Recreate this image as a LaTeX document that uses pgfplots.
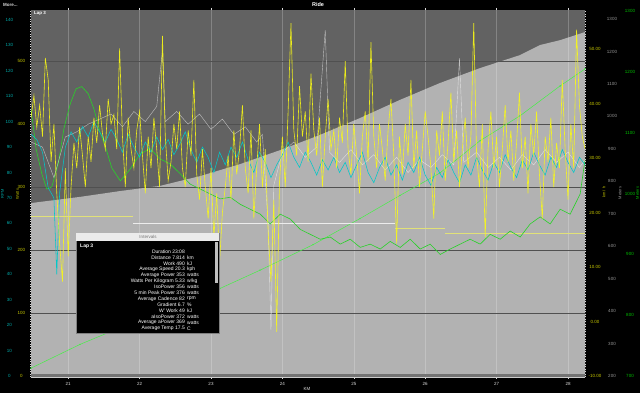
\documentclass[border=0pt]{standalone}
\usepackage{pgfplots}
\pgfplotsset{compat=1.18}
\usepackage{fontspec}
\setmainfont{Liberation Sans}
\definecolor{bgdark}{RGB}{98,98,98}
\definecolor{altfill}{RGB}{178,178,178}
\definecolor{pyellow}{RGB}{250,250,20}
\definecolor{ccyan}{RGB}{0,200,200}
\definecolor{sgreen}{RGB}{40,210,40}
\definecolor{lgreen}{RGB}{70,240,70}
\definecolor{tyellow}{RGB}{200,200,0}
\definecolor{tgray}{RGB}{150,150,150}
\definecolor{tgreen}{RGB}{0,190,0}
\definecolor{tcyan}{RGB}{0,170,170}
\definecolor{lineyel}{RGB}{225,225,120}
\definecolor{gridc}{RGB}{80,80,80}
\pgfplotsset{
  base/.style={scale only axis, width=554pt, height=367pt, at={(31pt,16pt)}, anchor=south west,
    xmin=20.479, xmax=28.238, axis line style={draw=none}, tick style={draw=none},
    xtick={21,...,28}, xticklabels={}, clip=true,
    /pgf/number format/assume math mode=true, /pgf/number format/1000 sep={},
    tick label style={font=\fontsize{4.5}{5}\selectfont}},
}
\newcommand\irow[4]{\node[anchor=east,inner sep=0,text=white,font=\fontsize{5}{6}\selectfont] at (185pt,#1pt) {#2\ #3};
  \node[anchor=west,inner sep=0,text=white,font=\fontsize{5}{6}\selectfont] at (187pt,#1pt) {#4};}
\begin{document}
\begin{tikzpicture}
\useasboundingbox (0,0) rectangle (640pt,393pt);
\fill[black] (0,0) rectangle (640pt,393pt);
% altitude
\begin{axis}[base, ymin=197, ymax=1328, ytick={200,300,...,1300}, yticklabel pos=right,
  yticklabel style={anchor=center, xshift=27pt, text=tgray},
  axis background/.style={fill=bgdark}, axis on top, xmajorgrids,
  grid style={white, opacity=0.22, line width=0.4pt}]
\addplot[fill=altfill, draw=none] coordinates {(20.479,733) (21.165,752) (21.726,770) (22.286,786) (22.846,816) (23.406,853) (23.966,896) (24.527,943) (25.087,995) (25.647,1051) (26.207,1103) (26.768,1149) (27.328,1189) (27.608,1220) (27.888,1235) (28.238,1260)} \closedcycle;
\end{axis}
% watts axis: grid + labels
\begin{axis}[base, ymin=-1.6, ymax=581, ytick={0,100,...,500},
  yticklabel style={anchor=center, xshift=-7.5pt, text=tyellow},
  ymajorgrids, grid style={gridc, line width=0.7pt},
  xticklabels={21,22,23,24,25,26,27,28},
  xticklabel style={anchor=center, yshift=-5pt, text=white!85!black},
  xtick style={draw=white!85!black, line width=0.4pt}, tick align=outside, major tick length=2pt]
\addplot[draw=none] coordinates {(21,0)};
\end{axis}
% green axis
\begin{axis}[base, ymin=698.4, ymax=1302, ytick={700,800,...,1300}, yticklabel pos=right,
  yticklabel style={anchor=center, xshift=45pt, text=tgreen}]
\addplot[lgreen, line width=0.5pt, mark=*, mark size=0.4pt] coordinates {(20.48,713) (21.165,752) (22.146,800) (23.126,844) (23.686,874) (24.429,916) (25.087,959) (25.647,997) (26.207,1034) (26.768,1087) (27.328,1128) (27.888,1177) (28.238,1205)};
\end{axis}
% speed axis
\begin{axis}[base, ymin=-10.18, ymax=57.16, ytick={-10,0,...,50}, yticklabel pos=right,
  yticklabel style={anchor=center, xshift=10pt, text=tyellow},
  /pgf/number format/fixed, /pgf/number format/fixed zerofill, /pgf/number format/precision=2]
\addplot[color=lineyel, line width=0.7pt] coordinates {(20.479,19.3) (21.908,19.3)};
\addplot[color=white!85!gray, line width=0.6pt] coordinates {(21.908,18.0) (25.577,18.0)};
\addplot[color=lineyel, line width=0.7pt] coordinates {(25.577,17.1) (26.277,17.1)};
\addplot[color=lineyel, line width=0.7pt] coordinates {(26.277,16.2) (28.238,16.2)};
\addplot[color=sgreen, line width=0.6pt] coordinates {(20.48,39.0) (20.55,31.7) (20.63,27.1) (20.70,24.3) (20.77,24.7) (20.86,28.9) (20.94,35.4) (21.03,40.0) (21.11,42.7) (21.19,43.1) (21.28,41.8) (21.36,39.0) (21.45,34.6) (21.53,31.7) (21.61,28.2) (21.73,25.8) (21.87,28.0) (22.01,30.8) (22.15,31.7) (22.29,29.8) (22.43,28.9) (22.57,27.1) (22.71,25.2) (22.85,24.3) (22.99,23.4) (23.13,22.5) (23.27,22.8) (23.41,21.5) (23.55,20.6) (23.69,19.7) (23.83,17.9) (23.97,19.7) (24.11,18.8) (24.25,16.9) (24.39,16.0) (24.53,15.1) (24.67,15.5) (24.81,14.2) (24.95,15.1) (25.09,13.6) (25.23,14.2) (25.37,13.3) (25.51,14.7) (25.65,13.6) (25.79,15.1) (25.93,13.3) (26.07,14.2) (26.21,12.3) (26.35,13.3) (26.49,14.2) (26.63,15.1) (26.77,14.2) (26.91,16.0) (27.05,15.1) (27.19,16.6) (27.33,15.5) (27.47,17.9) (27.61,19.2) (27.75,17.9) (27.89,20.6) (28.03,19.7) (28.17,23.4) (28.24,29.8)};
\end{axis}
% cadence axis
\begin{axis}[base, ymin=-0.39, ymax=143.9, ytick={0,10,...,140},
  yticklabel style={anchor=center, xshift=-21.5pt, text=tcyan}]
\addplot[white, opacity=0.6, line width=0.4pt] coordinates {(20.48,92) (20.64,90) (20.80,78) (20.96,94) (21.12,96) (21.28,99) (21.44,101) (21.60,103) (21.76,98) (21.92,104) (22.08,100) (22.24,106) (22.32,128) (22.36,100) (22.52,104) (22.68,99) (22.84,103) (23.00,97) (23.16,101) (23.32,95) (23.48,98) (23.64,92) (23.72,95) (23.80,60) (23.84,18) (23.88,75) (24.00,88) (24.16,92) (24.32,86) (24.48,90) (24.60,136) (24.66,88) (24.80,84) (24.96,89) (25.12,83) (25.28,87) (25.44,81) (25.60,86) (25.76,80) (25.92,85) (26.08,82) (26.24,87) (26.40,83) (26.48,125) (26.54,84) (26.72,88) (26.88,82) (27.04,86) (27.20,81) (27.36,87) (27.52,83) (27.68,89) (27.84,84) (28.00,88) (28.16,82) (28.24,85)};
\addplot[ccyan, line width=0.55pt] coordinates {(20.48,95) (20.56,93) (20.64,88) (20.72,74) (20.80,70) (20.84,40) (20.88,72) (20.96,90) (21.04,96) (21.12,92) (21.20,98) (21.28,94) (21.36,100) (21.44,96) (21.52,92) (21.60,97) (21.68,93) (21.76,88) (21.84,95) (21.92,90) (22.00,86) (22.08,92) (22.16,88) (22.24,94) (22.32,89) (22.40,93) (22.48,87) (22.56,91) (22.64,96) (22.72,89) (22.80,84) (22.88,90) (22.96,86) (23.04,80) (23.12,88) (23.20,83) (23.28,90) (23.36,86) (23.44,92) (23.52,85) (23.60,80) (23.68,88) (23.76,84) (23.84,78) (23.92,83) (24.00,87) (24.08,92) (24.16,86) (24.24,82) (24.32,88) (24.40,84) (24.48,79) (24.56,85) (24.64,81) (24.72,86) (24.80,80) (24.88,84) (24.96,78) (25.04,83) (25.12,88) (25.20,80) (25.28,76) (25.36,82) (25.44,86) (25.52,79) (25.60,83) (25.68,77) (25.76,84) (25.84,80) (25.92,86) (26.00,79) (26.08,75) (26.16,82) (26.24,78) (26.32,85) (26.40,80) (26.48,76) (26.56,83) (26.64,79) (26.72,86) (26.80,81) (26.88,77) (26.96,84) (27.04,80) (27.12,87) (27.20,82) (27.28,78) (27.36,85) (27.44,81) (27.52,88) (27.60,83) (27.68,79) (27.76,86) (27.84,82) (27.92,89) (28.00,84) (28.08,80) (28.16,86) (28.24,83)};
\end{axis}
% power
\begin{axis}[base, ymin=-1.6, ymax=581, ytick=\empty]
\addplot[pyellow, line width=0.6pt, opacity=0.9] table[row sep=\\] {
x y\\
20.48 410\\ 20.52 445\\ 20.56 395\\ 20.60 430\\ 20.64 380\\ 20.68 505\\ 20.72 470\\ 20.76 340\\ 20.80 400\\ 20.84 290\\
20.88 210\\ 20.92 150\\ 20.96 330\\ 21.00 190\\ 21.04 300\\ 21.08 370\\ 21.12 330\\ 21.16 395\\ 21.20 350\\ 21.24 300\\
21.28 380\\ 21.32 340\\ 21.36 410\\ 21.40 370\\ 21.44 430\\ 21.48 385\\ 21.52 360\\ 21.56 440\\ 21.60 400\\ 21.64 415\\
21.68 360\\ 21.72 520\\ 21.76 380\\ 21.80 300\\ 21.84 410\\ 21.88 360\\ 21.92 330\\ 21.96 390\\ 22.00 420\\ 22.04 350\\
22.08 290\\ 22.12 380\\ 22.16 330\\ 22.20 410\\ 22.24 360\\ 22.28 300\\ 22.32 540\\ 22.36 380\\ 22.40 310\\ 22.44 340\\
22.48 400\\ 22.52 360\\ 22.56 420\\ 22.60 330\\ 22.64 300\\ 22.68 390\\ 22.72 350\\ 22.76 470\\ 22.80 320\\ 22.84 280\\
22.88 360\\ 22.92 300\\ 22.96 250\\ 23.00 330\\ 23.04 220\\ 23.08 290\\ 23.12 180\\ 23.16 260\\ 23.20 300\\ 23.24 350\\
23.28 280\\ 23.32 390\\ 23.36 320\\ 23.40 360\\ 23.44 430\\ 23.48 330\\ 23.52 290\\ 23.56 390\\ 23.60 250\\ 23.64 330\\
23.68 400\\ 23.72 300\\ 23.76 360\\ 23.80 230\\ 23.84 150\\ 23.88 280\\ 23.92 70\\ 23.96 310\\ 24.00 380\\ 24.04 300\\
24.08 420\\ 24.12 560\\ 24.16 390\\ 24.20 350\\ 24.24 460\\ 24.28 380\\ 24.32 420\\ 24.36 340\\ 24.40 480\\ 24.44 390\\
24.48 350\\ 24.52 410\\ 24.56 300\\ 24.60 380\\ 24.64 440\\ 24.68 360\\ 24.72 390\\ 24.76 330\\ 24.80 410\\ 24.84 370\\
24.88 500\\ 24.92 360\\ 24.96 320\\ 25.00 400\\ 25.04 350\\ 25.08 290\\ 25.12 380\\ 25.16 420\\ 25.20 340\\ 25.24 530\\
25.28 380\\ 25.32 330\\ 25.36 400\\ 25.40 360\\ 25.44 310\\ 25.48 390\\ 25.52 440\\ 25.56 350\\ 25.60 210\\ 25.64 380\\
25.68 320\\ 25.72 400\\ 25.76 350\\ 25.80 470\\ 25.84 330\\ 25.88 390\\ 25.92 300\\ 25.96 360\\ 26.00 420\\ 26.04 380\\
26.08 330\\ 26.12 250\\ 26.16 390\\ 26.20 350\\ 26.24 420\\ 26.28 310\\ 26.32 370\\ 26.36 450\\ 26.40 340\\ 26.44 390\\
26.48 300\\ 26.52 360\\ 26.56 410\\ 26.60 330\\ 26.64 380\\ 26.68 560\\ 26.72 350\\ 26.76 300\\ 26.80 400\\ 26.84 220\\
26.88 360\\ 26.92 420\\ 26.96 330\\ 27.00 380\\ 27.04 300\\ 27.08 360\\ 27.12 430\\ 27.16 340\\ 27.20 390\\ 27.24 310\\
27.28 370\\ 27.32 450\\ 27.36 330\\ 27.40 380\\ 27.44 290\\ 27.48 400\\ 27.52 350\\ 27.56 420\\ 27.60 320\\ 27.64 250\\
27.68 380\\ 27.72 340\\ 27.76 410\\ 27.80 300\\ 27.84 370\\ 27.88 330\\ 27.92 470\\ 27.96 360\\ 28.00 280\\ 28.04 400\\
28.08 330\\ 28.12 550\\ 28.16 430\\ 28.20 380\\ 28.24 360\\
};
\end{axis}
% frame and decorations
\fill[black!55] (31pt,16pt) rectangle (585pt,19pt);
\draw[white!80!black, line width=0.6pt] (31pt,15.7pt) -- (585pt,15.7pt);
\draw[white!85!black, dotted, line width=0.5pt] (30.5pt,16pt) -- (30.5pt,383pt);
\draw[white!85!black, dotted, line width=0.5pt] (585.5pt,16pt) -- (585.5pt,383pt);
\node[anchor=west, inner sep=0, text=white!85!black, font=\bfseries\fontsize{4.5}{5}\selectfont] at (3pt,388pt) {More...};
\node[inner sep=0, text=white, font=\bfseries\fontsize{5.5}{6}\selectfont] at (318pt,388pt) {Ride};
\node[anchor=west, inner sep=0, text=white, font=\bfseries\fontsize{4.5}{5}\selectfont] at (34pt,380pt) {Lap 3};
\node[inner sep=0, text=white!85!black, font=\fontsize{4.5}{5}\selectfont] at (307pt,4pt) {KM};
\node[rotate=90, inner sep=0, text=tcyan, font=\fontsize{4}{5}\selectfont] at (2.5pt,199pt) {RPM};
\node[rotate=90, inner sep=0, text=tyellow, font=\fontsize{4}{5}\selectfont] at (17.5pt,199pt) {Watts};
\node[rotate=90, inner sep=0, text=tyellow, font=\fontsize{4}{5}\selectfont] at (604pt,201pt) {km / h};
\node[rotate=90, inner sep=0, text=tgray, font=\fontsize{4}{5}\selectfont] at (620pt,200pt) {Meters};
\node[rotate=90, inner sep=0, text=tgreen, font=\fontsize{4}{5}\selectfont] at (637.5pt,200pt) {Meters};
% interval panel
\fill[black] (76pt,60pt) rectangle (219pt,152pt);
\draw[gray, line width=0.4pt] (76pt,60pt) rectangle (219pt,160pt);
\fill[white!92!black] (76pt,152pt) rectangle (219pt,160pt);
\node[inner sep=0, text=black!55, font=\fontsize{4.5}{5}\selectfont] at (148pt,156pt) {Intervals};
\fill[white!75!black] (215pt,110pt) rectangle (218pt,151pt);
\node[anchor=west, inner sep=0, text=white, font=\bfseries\fontsize{5}{6}\selectfont] at (80pt,146.3pt) {Lap 3};
\irow{141.3}{Duration}{23:08}{}
\irow{135.4}{Distance}{7.814}{km}
\irow{129.5}{Work}{490}{kJ}
\irow{123.6}{Average Speed}{20.3}{kph}
\irow{117.7}{Average Power}{353}{watts}
\irow{111.8}{Watts Per Kilogram}{5.33}{w/kg}
\irow{105.9}{IsoPower}{356}{watts}
\irow{100.0}{5 min Peak Power}{376}{watts}
\irow{94.1}{Average Cadence}{82}{rpm}
\irow{88.2}{Gradient}{6.7}{\%}
\irow{82.3}{W' Work}{49}{kJ}
\irow{76.4}{aIsoPower}{372}{watts}
\irow{70.5}{Average aPower}{369}{watts}
\irow{64.6}{Average Temp}{17.5}{C}
\end{tikzpicture}
\end{document}
